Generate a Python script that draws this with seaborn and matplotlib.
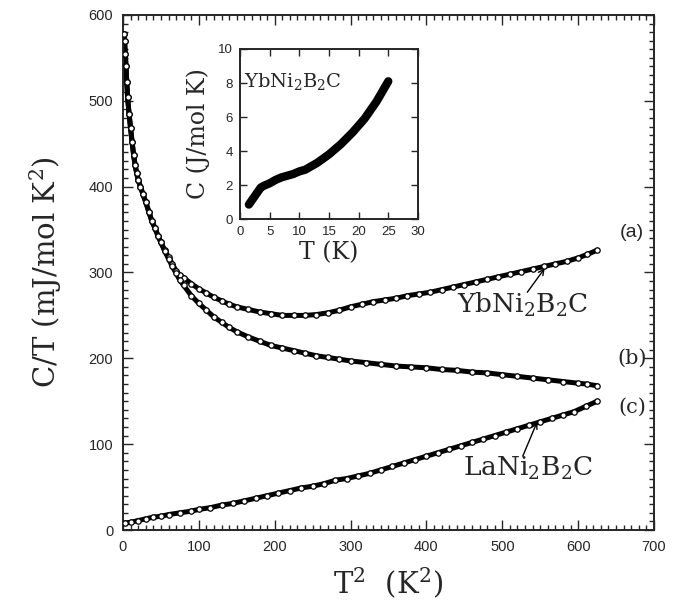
import numpy as np
import pandas as pd
import matplotlib
matplotlib.use('Agg')
import matplotlib.pyplot as plt
import seaborn as sns
from matplotlib.ticker import MultipleLocator

# (a) YbNi2B2C, C/T vs T^2
a_t2 = [1, 2, 3, 4, 5, 6, 8, 10, 12, 14, 16, 18, 20, 23, 26, 30, 34, 38, 42, 46,
        50, 55, 60, 65, 70, 75, 80, 90, 100, 110, 120, 130, 140, 150, 165, 180,
        195, 210, 225, 240, 255, 270, 285, 300, 315, 330, 345, 360, 375, 390, 405,
        420, 435, 450, 465, 480, 495, 510, 525, 540, 555, 570, 585, 600, 612, 625]
a_ct = [578, 570, 555, 540, 522, 505, 485, 468, 452, 437, 425, 416, 408, 400, 392,
        382, 371, 360, 352, 343, 335, 326, 318, 310, 302, 297, 294, 287, 281, 276,
        271, 267, 263, 260, 257, 254, 252, 250, 250, 250, 251, 253, 256, 260, 263,
        266, 268, 270, 273, 275, 277, 280, 283, 286, 289, 292, 295, 298, 301, 304,
        307, 310, 313, 317, 321, 326]

# (b) same sample, lower curve
b_t2 = [1, 2, 3, 4, 5, 6, 8, 10, 12, 14, 16, 18, 20, 23, 26, 30, 34, 38, 42, 46,
        50, 55, 60, 65, 70, 75, 80, 90, 100, 110, 120, 130, 140, 150, 165, 180,
        195, 210, 225, 240, 255, 270, 285, 300, 320, 340, 360, 380, 400, 420, 440,
        460, 480, 500, 520, 540, 560, 580, 600, 612, 625]
b_ct = [578, 570, 555, 540, 522, 505, 485, 468, 452, 437, 425, 416, 408, 400, 392,
        382, 371, 360, 352, 343, 335, 325, 316, 307, 299, 291, 285, 273, 264, 256,
        248, 242, 236, 231, 225, 220, 215, 212, 209, 206, 203, 201, 199, 197, 195,
        193, 191, 190, 189, 187, 186, 184, 183, 181, 179, 177, 175, 173, 171, 170,
        168]

# (c) LaNi2B2C
c_t2 = [2, 10, 20, 30, 40, 50, 60, 75, 90, 100, 115, 130, 145, 160, 175, 190, 205,
        220, 235, 250, 265, 280, 295, 310, 325, 340, 355, 370, 385, 400, 415, 430,
        445, 460, 475, 490, 505, 520, 535, 550, 565, 580, 595, 610, 625]
c_ct = [8, 9, 11, 13, 15, 16, 18, 20, 22, 24, 26, 29, 31, 34, 37, 40, 43, 46, 49,
        51, 54, 58, 60, 63, 66, 70, 74, 78, 82, 86, 90, 94, 98, 102, 106, 110, 114,
        118, 122, 126, 130, 134, 138, 144, 150]

# inset: C vs T for YbNi2B2C
in_t = [1.5, 2, 2.5, 3, 3.5, 4, 5, 6, 7, 8, 9, 10, 11, 12, 13, 14, 15, 16, 17, 18,
        19, 20, 21, 22, 23, 24, 25]
in_c = [0.85, 1.1, 1.35, 1.6, 1.85, 1.95, 2.1, 2.3, 2.45, 2.55, 2.65, 2.8, 2.9, 3.1,
        3.3, 3.55, 3.8, 4.1, 4.4, 4.75, 5.1, 5.5, 5.9, 6.4, 6.9, 7.5, 8.1]

sns.set_style("ticks")
plt.rcParams['font.family'] = ['Liberation Sans', 'DejaVu Sans']
plt.rcParams['mathtext.fontset'] = 'dejavuserif'

SERIF = 'DejaVu Serif'


def curve(ax, x, y):
    df = pd.DataFrame({'x': x, 'y': y})
    sns.lineplot(data=df, x='x', y='y', color='black', lw=3.6, sort=False, ax=ax)
    sns.scatterplot(data=df, x='x', y='y', marker='o', s=15, facecolor='white',
                    edgecolor='black', linewidth=0.9, ax=ax, zorder=3)


fig = plt.figure(figsize=(6.89, 6.14), dpi=100)
ax = fig.add_axes([0.1785, 0.1368, 0.7707, 0.8388])

curve(ax, a_t2, a_ct)
curve(ax, b_t2, b_ct)
curve(ax, c_t2, c_ct)

ax.set_xlim(0, 700)
ax.set_ylim(0, 600)
ax.xaxis.set_major_locator(MultipleLocator(100))
ax.xaxis.set_minor_locator(MultipleLocator(10))
ax.yaxis.set_major_locator(MultipleLocator(100))
ax.yaxis.set_minor_locator(MultipleLocator(10))
ax.tick_params(which='both', direction='in', top=True, right=True, width=1,
               labelsize=10.5, pad=7)
ax.tick_params(which='major', length=7)
ax.tick_params(which='minor', length=3.5)
for s in ax.spines.values():
    s.set_linewidth(1.4)

ax.set_xlabel('T$^2$  (K$^2$)', family=SERIF, fontsize=21, labelpad=8)
ax.set_ylabel('C/T (mJ/mol K$^2$)', family=SERIF, fontsize=21, labelpad=18)

ax.text(686, 347, '(a)', ha='right', va='center', fontsize=14)
ax.text(690, 200, '(b)', ha='right', va='center', fontsize=15, family=SERIF)
ax.text(690, 143, '(c)', ha='right', va='center', fontsize=15, family=SERIF)

ax.text(527, 262, 'YbNi$_2$B$_2$C', ha='center', va='center', fontsize=19,
        family=SERIF)
ax.annotate('', xy=(556, 305), xytext=(533, 277),
            arrowprops=dict(arrowstyle='->', color='black', lw=1,
                            shrinkA=0, shrinkB=0))
ax.text(534, 72, 'LaNi$_2$B$_2$C', ha='center', va='center', fontsize=19,
        family=SERIF)
ax.annotate('', xy=(546, 126), xytext=(527, 86),
            arrowprops=dict(arrowstyle='->', color='black', lw=1,
                            shrinkA=0, shrinkB=0))

# inset
ins = fig.add_axes([0.3483, 0.6433, 0.2583, 0.2769])
sns.lineplot(x=in_t, y=in_c, color='black', lw=6, ax=ins,
             solid_capstyle='round')
ins.set_xlim(0, 30)
ins.set_ylim(0, 10)
ins.xaxis.set_major_locator(MultipleLocator(5))
ins.yaxis.set_major_locator(MultipleLocator(2))
ins.tick_params(which='both', direction='in', top=True, right=True, width=1,
                length=5, labelsize=9.5, pad=5)
for s in ins.spines.values():
    s.set_linewidth(1.4)
ins.set_xlabel('T (K)', family=SERIF, fontsize=17, labelpad=2)
ins.set_ylabel('C (J/mol K)', family=SERIF, fontsize=17, labelpad=6)
ins.text(0.6, 8.1, 'YbNi$_2$B$_2$C', family=SERIF, fontsize=14, va='center')

fig.savefig('out.png', dpi=100)
